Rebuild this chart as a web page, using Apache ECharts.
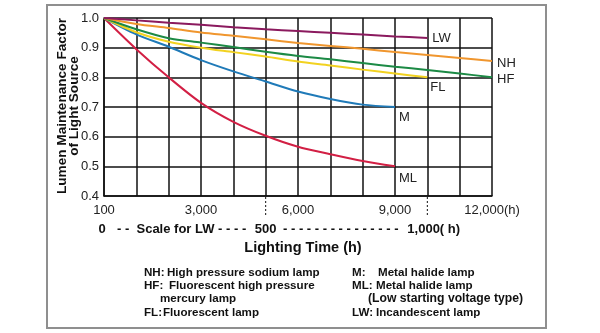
<!DOCTYPE html>
<html><head><meta charset="utf-8">
<script src="https://cdn.jsdelivr.net/npm/echarts@6/dist/echarts.min.js"></script>
<style>html,body{margin:0;padding:0;background:#fff}#c{width:600px;height:333px}</style>
</head><body><div id="c"></div>
<script>
// hours (each grid column = 1000 h; first tick labelled 100 h)
const hours = [0,1000,2000,3000,4000,5000,6000,7000,8000,9000,10000,11000,12000];
const xTickValues = [0,3000,6000,9000,12000];
const xTickLabels = ['100','3,000','6,000','9,000','12,000(h)'];
const yTickLabels = ['0.4','0.5','0.6','0.7','0.8','0.9','1.0'];
const seriesNames = ['LW','NH','HF','FL','M','ML'];
const LW = [1.0,0.992,0.984,0.977,0.969,0.962,0.956,0.950,0.944,0.938,0.933];
const NH = [1.0,0.980,0.966,0.951,0.940,0.928,0.916,0.906,0.896,0.885,0.875,0.865,0.855];
const HF = [1.0,0.962,0.932,0.917,0.902,0.886,0.872,0.861,0.848,0.836,0.825,0.813,0.800];
const FL = [1.0,0.952,0.920,0.900,0.885,0.870,0.853,0.840,0.826,0.813,0.800];
const M  = [1.0,0.945,0.903,0.858,0.820,0.786,0.752,0.727,0.708,0.700];
const ML = [1.0,0.895,0.800,0.714,0.650,0.603,0.566,0.541,0.518,0.500];
const colors = ['#8b1a5e','#f0962e','#1c8a45','#f2d220','#1f7ab8','#d21f44'];
const labelOffsets = [[-3,1],[-3,2],[-3,2],[-5,10],[-4,10],[-4,12]];

const values = [LW,NH,HF,FL,M,ML];
const chart = echarts.init(document.getElementById('c'));
const sans = '"Liberation Sans",Arial,sans-serif';

const series = values.map((v,i)=>({
  name: seriesNames[i], type:'line', smooth:0.3, symbol:'none',
  data: v.map((y,j)=>[hours[j],y]),
  lineStyle:{color:colors[i], width:2},
  z: 10-i,
  endLabel:{show:true, formatter: seriesNames[i], color:'#222', fontFamily:sans, fontSize:13, offset:labelOffsets[i]}
}));

chart.setOption({
  animation:false,
  grid:{left:104, right:108, top:18, bottom:137},
  xAxis:{type:'value', min:0, max:12000, interval:1000,
    axisLine:{lineStyle:{color:'#111', width:1.5}}, axisTick:{show:false},
    splitLine:{lineStyle:{color:'#111', width:1.5}},
    axisLabel:{margin:8, color:'#222', fontFamily:sans, fontSize:13,
      formatter:(val)=>{const k=xTickValues.indexOf(val); return k>=0?xTickLabels[k]:'';}}},
  yAxis:{type:'value', min:0.4, max:1.0, interval:0.1,
    axisLine:{show:true, lineStyle:{color:'#111', width:1.5}}, axisTick:{show:false},
    splitLine:{lineStyle:{color:'#111', width:1.5}},
    axisLabel:{margin:5, color:'#222', fontFamily:sans, fontSize:13,
      formatter:(val)=>yTickLabels[Math.round((val-0.4)*10)]}},
  series
});

function px(x){return chart.convertToPixel({xAxisIndex:0},x);}
const bold = {fontFamily:sans, fontWeight:'bold', fontSize:13, fill:'#111'};
function t(x,y,text,extra){return {type:'text', x, y, style:Object.assign({text, textVerticalAlign:'middle'}, bold, extra||{})};}
const lg = {fontSize:11.6};
const yAxisBottom = chart.convertToPixel({yAxisIndex:0},0.4);
const graphic = [
  {type:'rect', shape:{x:47,y:5,width:499,height:323}, style:{fill:'none', stroke:'#8f8f8f', lineWidth:2}, z:-1},
  {type:'text', x:68, y:106, rotation:Math.PI/2, style:Object.assign({text:'Lumen Maintenance Factor\nof Light Source', textAlign:'center', textVerticalAlign:'middle', lineHeight:12.5}, bold, {fontSize:13.6})},
  {type:'line', shape:{x1:px(5000),y1:yAxisBottom+1,x2:px(5000),y2:yAxisBottom+19}, style:{stroke:'#111', lineWidth:1, lineDash:[2,2]}},
  {type:'line', shape:{x1:px(10000),y1:yAxisBottom+1,x2:px(10000),y2:yAxisBottom+19}, style:{stroke:'#111', lineWidth:1, lineDash:[2,2]}},
  t(px(0)-2,229,'0',{textAlign:'center'}),
  t(117,229,'- -  Scale for LW - - - -'),
  t(px(5000),229,'500',{textAlign:'center'}),
  t(283,229,'- - - - - - - - - - - - - - -'),
  t(px(10000)-20,229,'1,000( h)'),
  t(303,248,'Lighting Time (h)',{textAlign:'center', fontSize:14.5}),
  t(144,273,'NH:',lg), t(167,273,'High pressure sodium lamp',lg),
  t(144,286,'HF:',lg), t(169,286,'Fluorescent high pressure',lg),
  t(160,299,'mercury lamp',lg),
  t(144,313,'FL:',lg), t(163,313,'Fluorescent lamp',lg),
  t(352,273,'M:',lg), t(378,273,'Metal halide lamp',lg),
  t(352,286,'ML:',lg), t(376,286,'Metal halide lamp',lg),
  t(368,299,'(Low starting voltage type)',Object.assign({},lg,{fontSize:12.2})),
  t(352,313,'LW:',lg), t(376,313,'Incandescent lamp',lg)
];
chart.setOption({graphic});
</script></body></html>
